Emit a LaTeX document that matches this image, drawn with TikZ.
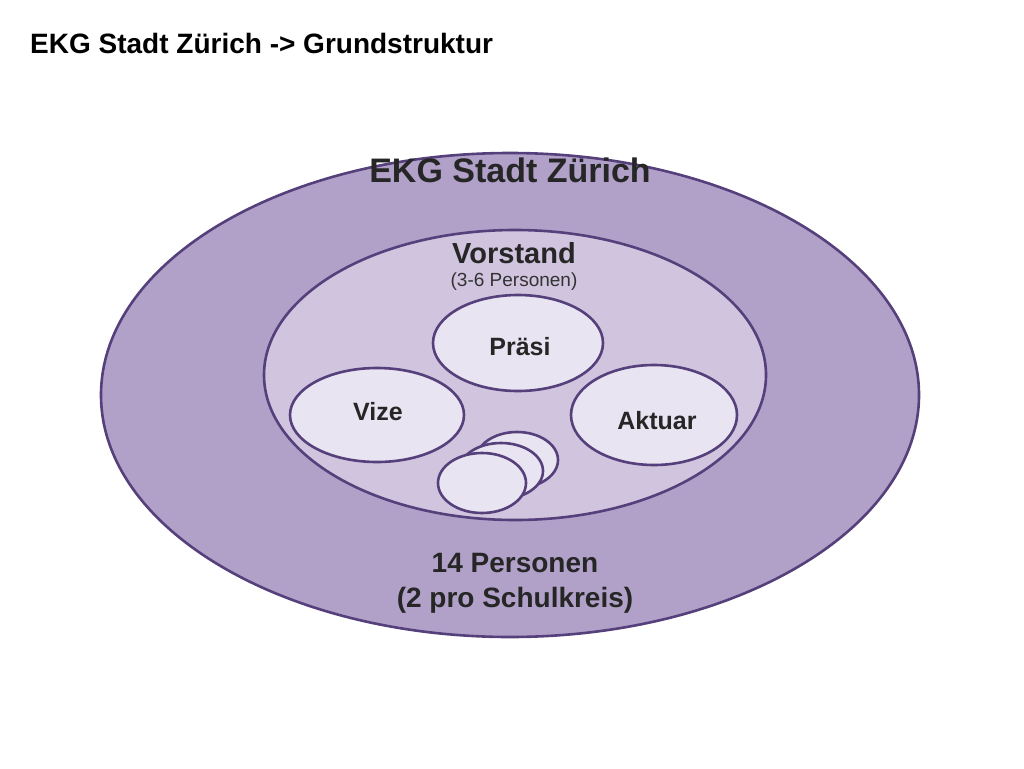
\documentclass[tikz,border=0pt]{standalone}
\usepackage{fontspec}
\setmainfont{Liberation Sans}
\begin{document}
\begin{tikzpicture}[x=1pt,y=-1pt,
  ring/.style={draw=edgec,line width=2.6pt},
  small/.style={ring,fill=lightc}]
\definecolor{edgec}{HTML}{55407B}
\definecolor{outerc}{HTML}{B1A1C9}
\definecolor{innerc}{HTML}{D0C4DE}
\definecolor{lightc}{HTML}{E9E4F1}
\useasboundingbox (0,0) rectangle (1024,768);
\node[anchor=west,inner sep=0pt,font=\bfseries\fontsize{28}{30}\selectfont] (title) at (30,43) {EKG Stadt Zürich -> Grundstruktur};
\draw[ring,fill=outerc] (510,395) ellipse [x radius=409,y radius=242];
\draw[ring,fill=innerc] (515,375) ellipse [x radius=251,y radius=145];
\draw[small] (518,343) ellipse [x radius=85,y radius=48];
\draw[small] (377,415) ellipse [x radius=87,y radius=47];
\draw[small] (654,415) ellipse [x radius=83,y radius=50];
\draw[small] (517,460) ellipse [x radius=41,y radius=28];
\draw[small] (501,471) ellipse [x radius=42,y radius=28];
\draw[small] (482,483) ellipse [x radius=44,y radius=30];
\node[font=\bfseries\fontsize{34}{36}\selectfont,text=black!85] (ekg) at (510,170) {EKG Stadt Zürich};
\node[font=\bfseries\fontsize{29}{31}\selectfont,text=black!85] (vor) at (514,253) {Vorstand};
\node[font=\fontsize{19}{21}\selectfont,text=black!80] (pers) at (514,282) {(3-6 Personen)};
\node[font=\bfseries\fontsize{25}{27}\selectfont,text=black!85] (praesi) at (520,347) {Präsi};
\node[font=\bfseries\fontsize{25}{27}\selectfont,text=black!85] (vize) at (378,412) {Vize};
\node[font=\bfseries\fontsize{25}{27}\selectfont,text=black!85] (akt) at (657,421) {Aktuar};
\node[font=\bfseries\fontsize{28}{35}\selectfont,text=black!85,align=center] (vier) at (515,583) {14 Personen\\(2 pro Schulkreis)};
\end{tikzpicture}
\end{document}
